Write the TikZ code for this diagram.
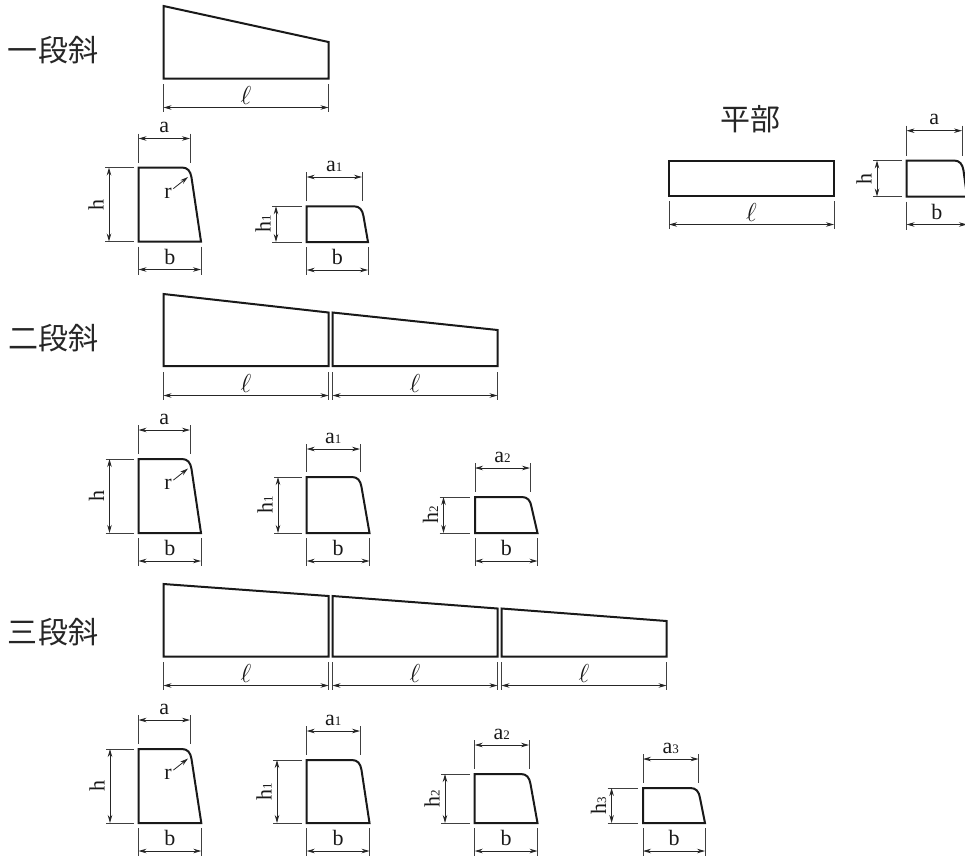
\documentclass[tikz,border=0pt]{standalone}
\usepackage{fontspec}
\setmainfont{Liberation Serif}
\newfontfamily\cjkfont{Noto Sans CJK JP}[Scale=1]
\usetikzlibrary{arrows.meta}
\tikzset{
  shapeline/.style={line width=2pt,line join=miter,draw=black!90},
  extline/.style={line width=0.7pt,draw=black!75},
  dimline/.style={line width=0.8pt,draw=black!85,{Stealth[length=8pt,width=4.5pt]}-{Stealth[length=8pt,width=4.5pt]}},
  leader/.style={line width=0.8pt,draw=black!85,-{Stealth[length=8pt,width=4.5pt]}},
  dimtext/.style={inner sep=0pt,font=\fontsize{22}{22}\selectfont,text=black!90},
  titletext/.style={inner sep=0pt,font=\cjkfont\fontsize{30}{30}\selectfont,text=black!85}
}
\newcommand{\subdigit}[1]{{\fontsize{13}{13}\selectfont #1}}
% id, left, top, bottom, a-x, b-x, a-dim y, h-dim x, subscript
\newcommand{\crosssection}[9]{%
  \draw[shapeline] (#2,#3) -- (#5-8,#3) .. controls (#5-2.5,#3) and (#5+0.5,#3+3.5) .. (#5+1.5,#3+10) -- (#6,#4) -- (#2,#4) -- cycle;
  \coordinate (#1at) at (#2,#7-5);\coordinate (#1ab) at (#2,#3-5);
  \coordinate (#1bt) at (#5,#7-5);\coordinate (#1bb) at (#5,#3-5);
  \draw[extline] (#1at) -- (#1ab);\draw[extline] (#1bt) -- (#1bb);
  \coordinate (#1al) at (#2,#7);\coordinate (#1ar) at (#5,#7);
  \draw[dimline] (#1al) -- (#1ar);
  \node[dimtext] (#1atext) at ({(#2+#5)/2},#7-11) {a\subdigit{#9}};
  \coordinate (#1hl) at (#8-4,#3);\coordinate (#1hr) at (#2-5,#3);
  \coordinate (#1kl) at (#8-4,#4);\coordinate (#1kr) at (#2-5,#4);
  \draw[extline] (#1hl) -- (#1hr);\draw[extline] (#1kl) -- (#1kr);
  \coordinate (#1ht) at (#8,#3);\coordinate (#1hb) at (#8,#4);
  \draw[dimline] (#1ht) -- (#1hb);
  \node[dimtext,rotate=90] (#1htext) at (#8-13,{(#3+#4)/2}) {h\subdigit{#9}};
  \coordinate (#1ct) at (#2,#4+5);\coordinate (#1cb) at (#2,#4+33);
  \coordinate (#1dt) at (#6,#4+5);\coordinate (#1db) at (#6,#4+33);
  \draw[extline] (#1ct) -- (#1cb);\draw[extline] (#1dt) -- (#1db);
  \coordinate (#1bl) at (#2,#4+28);\coordinate (#1brr) at (#6,#4+28);
  \draw[dimline] (#1bl) -- (#1brr);
  \node[dimtext] (#1btext) at ({(#2+#6)/2},#4+15) {b};
}
% id, left x, right x, extension top y
\newcommand{\elldim}[4]{%
  \coordinate (#1t) at (#2,#4);\coordinate (#1b) at (#2,#4+28);
  \coordinate (#1u) at (#3,#4);\coordinate (#1v) at (#3,#4+28);
  \draw[extline] (#1t) -- (#1b);\draw[extline] (#1u) -- (#1v);
  \coordinate (#1p) at (#2,#4+23.5);\coordinate (#1q) at (#3,#4+23.5);
  \draw[dimline] (#1p) -- (#1q);
  \node[dimtext,scale=1.25] (#1text) at ({(#2+#3)/2},#4+11.5) {$\ell$};
}
% id, y offset relative to the first radius position
\newcommand{\radiuslabel}[2]{%
  \node[dimtext] (#1r) at (168,#2+193) {r};
  \coordinate (#1tip) at (188,#2+177);
  \draw[leader] (#1r.north east) ++(1.5,1) -- (#1tip);
}
\begin{document}
\begin{tikzpicture}[x=1pt,y=-1pt]
\useasboundingbox (0,0) rectangle (965,857);
% titles
\node[titletext] (t1) at (53,50) {一段斜};
\node[titletext] (t2) at (54,338) {二段斜};
\node[titletext] (t3) at (53,632) {三段斜};
\node[titletext] (t4) at (750,119) {平部};
% 一段斜
\draw[shapeline] (163.5,6) -- (328.5,42) -- (328.5,78.5) -- (163.5,78.5) -- cycle;
\elldim{la}{163.5}{328.5}{84}
\crosssection{sa}{138.5}{167.5}{241.5}{190}{201}{138.5}{109}{}
\radiuslabel{ra}{0}
\crosssection{sb}{306.7}{206.3}{242}{362}{368}{177}{276}{1}
% 平部
\draw[shapeline] (669,161) rectangle (834,195.5);
\elldim{lf}{669}{834}{201}
\crosssection{sf}{906.5}{160.5}{196.5}{962}{967}{130.7}{877}{}
% 二段斜
\draw[shapeline] (163.5,294) -- (328.5,312.5) -- (328.5,366) -- (163.5,366) -- cycle;
\draw[shapeline] (332.5,312.5) -- (497.5,330) -- (497.5,366) -- (332.5,366) -- cycle;
\elldim{lb}{163.5}{328.5}{372}
\elldim{lc}{332.5}{497.5}{372}
\crosssection{sc}{138.5}{459}{533}{190}{201}{430}{109.5}{}
\radiuslabel{rb}{291.5}
\crosssection{sd}{306.7}{477}{533}{360}{369.5}{449}{278}{1}
\crosssection{se}{475}{497}{533}{530}{537.5}{468}{443.5}{2}
% 三段斜
\draw[shapeline] (163.5,584) -- (328.5,596) -- (328.5,656.5) -- (163.5,656.5) -- cycle;
\draw[shapeline] (332.5,596) -- (497.5,608.5) -- (497.5,656.5) -- (332.5,656.5) -- cycle;
\draw[shapeline] (501.5,608.5) -- (666.5,621) -- (666.5,656.5) -- (501.5,656.5) -- cycle;
\elldim{ld}{163.5}{328.5}{662}
\elldim{le}{332.5}{497.5}{662}
\elldim{lg}{501.5}{666.5}{662}
\crosssection{sg}{138.5}{749}{823}{190}{201.3}{720}{110}{}
\radiuslabel{rc}{581.5}
\crosssection{sh}{306.7}{760}{823}{360}{369.5}{731}{277}{1}
\crosssection{si}{474.7}{774}{823}{529}{537.5}{745}{445}{2}
\crosssection{sj}{643}{788}{823}{698.5}{705}{759}{611.6}{3}
\end{tikzpicture}
\end{document}
